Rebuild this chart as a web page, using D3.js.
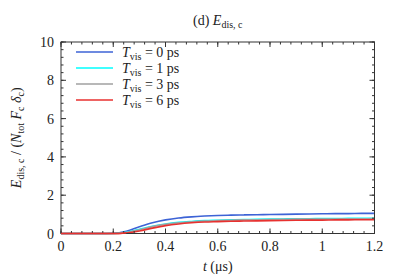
<!DOCTYPE html>
<html><head><meta charset="utf-8">
<script src="https://cdn.jsdelivr.net/npm/d3@7/dist/d3.min.js"></script>
<style>body{margin:0;background:#fff}svg{display:block}text{font-family:"Liberation Serif","DejaVu Serif",serif;fill:#222}</style>
</head><body>
<svg id="c" width="399" height="278"></svg>
<script>
const times = [0,0.05,0.1,0.15,0.2,0.25,0.3,0.35,0.4,0.45,0.5,0.55,0.6,0.65,0.7,0.75,0.8,0.85,0.9,0.95,1.0,1.05,1.1,1.15,1.2];
const e0 = [0,0,0,0,0.01,0.12,0.35,0.56,0.71,0.81,0.87,0.91,0.94,0.96,0.97,0.98,0.99,1.0,1.01,1.02,1.03,1.04,1.04,1.05,1.05];
const e1 = [0,0,0,0,0,0.06,0.22,0.38,0.5,0.58,0.63,0.67,0.69,0.71,0.73,0.74,0.75,0.76,0.77,0.77,0.78,0.78,0.79,0.79,0.80];
const e3 = [0,0,0,0,0,0.05,0.2,0.36,0.48,0.56,0.61,0.65,0.67,0.69,0.71,0.72,0.73,0.74,0.75,0.75,0.76,0.76,0.77,0.77,0.78];
const e6 = [0,0,0,0,0,0.03,0.13,0.28,0.41,0.5,0.56,0.6,0.62,0.64,0.65,0.66,0.67,0.68,0.69,0.7,0.7,0.71,0.71,0.72,0.72];
const seriesLabels = ["0","1","3","6"];
const seriesValues = [e0,e1,e3,e6];
const colors = ["#3d63d6","#00ffff","#a0a0a0","#e8312f"];
const xTicks = [0,0.2,0.4,0.6,0.8,1,1.2];
const yTicks = [0,2,4,6,8,10];

const svg = d3.select("#c");
const L=61,R=374.5,T=42,B=233.5;
const x = d3.scaleLinear().domain([0,1.2]).range([L,R]);
const y = d3.scaleLinear().domain([0,10]).range([B,T]);

const line = d3.line().x((d,i)=>x(times[i])).y(d=>y(d)).curve(d3.curveMonotoneX);
[0,1,2,3].forEach(k=>{
  svg.append("path").attr("d",line(seriesValues[k])).attr("fill","none")
    .attr("stroke",colors[k]).attr("stroke-width",1.6);
});

const g = svg.append("g").attr("stroke","#333").attr("stroke-width",1).attr("fill","none");
const xMinor = d3.range(0,1.2001,0.04);
const yMinor = d3.range(0,10.001,0.4);
xMinor.forEach(v=>{
  g.append("line").attr("x1",x(v)).attr("x2",x(v)).attr("y1",B).attr("y2",B-2.5);
  g.append("line").attr("x1",x(v)).attr("x2",x(v)).attr("y1",T).attr("y2",T+2.5);
});
xTicks.forEach(v=>{
  g.append("line").attr("x1",x(v)).attr("x2",x(v)).attr("y1",B).attr("y2",B-5);
  g.append("line").attr("x1",x(v)).attr("x2",x(v)).attr("y1",T).attr("y2",T+5);
});
yMinor.forEach(v=>{
  g.append("line").attr("x1",L).attr("x2",L+2.5).attr("y1",y(v)).attr("y2",y(v));
  g.append("line").attr("x1",R).attr("x2",R-2.5).attr("y1",y(v)).attr("y2",y(v));
});
yTicks.forEach(v=>{
  g.append("line").attr("x1",L).attr("x2",L+5).attr("y1",y(v)).attr("y2",y(v));
  g.append("line").attr("x1",R).attr("x2",R-5).attr("y1",y(v)).attr("y2",y(v));
});
g.append("rect").attr("x",L).attr("y",T).attr("width",R-L).attr("height",B-T).attr("stroke","#333");
svg.append("path").attr("d",line(seriesValues[3].slice(0,6))).attr("fill","none").attr("stroke",colors[3]).attr("stroke-width",1.6);

const fs=14;
xTicks.forEach(v=>{
  svg.append("text").attr("x",x(v)).attr("y",B+17).attr("text-anchor","middle").attr("font-size",fs).text(d3.format("~g")(v));
});
yTicks.forEach(v=>{
  svg.append("text").attr("x",L-7).attr("y",y(v)+5).attr("text-anchor","end").attr("font-size",fs).text(v);
});

const sub=10;
const tt = svg.append("text").attr("x",(L+R)/2).attr("y",25).attr("text-anchor","middle").attr("font-size",fs);
tt.append("tspan").text("(d) ");
tt.append("tspan").attr("font-style","italic").text("E");
tt.append("tspan").attr("font-size",sub).attr("dy",3).text("dis, c");

const xl = svg.append("text").attr("x",(L+R)/2).attr("y",271).attr("text-anchor","middle").attr("font-size",fs);
xl.append("tspan").attr("font-style","italic").text("t");
xl.append("tspan").text(" (μs)");

const yl = svg.append("text").attr("transform",`translate(21,${(T+B)/2}) rotate(-90)`).attr("text-anchor","middle").attr("font-size",fs);
yl.append("tspan").attr("font-style","italic").text("E");
yl.append("tspan").attr("font-size",sub).attr("dy",3).text("dis, c");
yl.append("tspan").attr("dy",-3).text(" / (");
yl.append("tspan").attr("font-style","italic").text("N");
yl.append("tspan").attr("font-size",sub).attr("dy",3).text("tot");
yl.append("tspan").attr("dy",-3).attr("font-style","italic").text(" F");
yl.append("tspan").attr("font-size",sub).attr("dy",3).text("c");
yl.append("tspan").attr("dy",-3).attr("font-style","italic").text(" δ");
yl.append("tspan").attr("font-size",sub).attr("dy",3).text("c");
yl.append("tspan").attr("dy",-3).text(")");

seriesLabels.forEach((lab,i)=>{
  const yy = 52 + i*16;
  svg.append("line").attr("x1",76).attr("x2",113).attr("y1",yy).attr("y2",yy).attr("stroke",colors[i]).attr("stroke-width",1.6);
  const t = svg.append("text").attr("x",122).attr("y",yy+4.5).attr("font-size",fs);
  t.append("tspan").attr("font-style","italic").text("T");
  t.append("tspan").attr("font-size",sub).attr("dy",3).text("vis");
  t.append("tspan").attr("dy",-3).text(" = "+lab+" ps");
});
</script>
</body></html>
